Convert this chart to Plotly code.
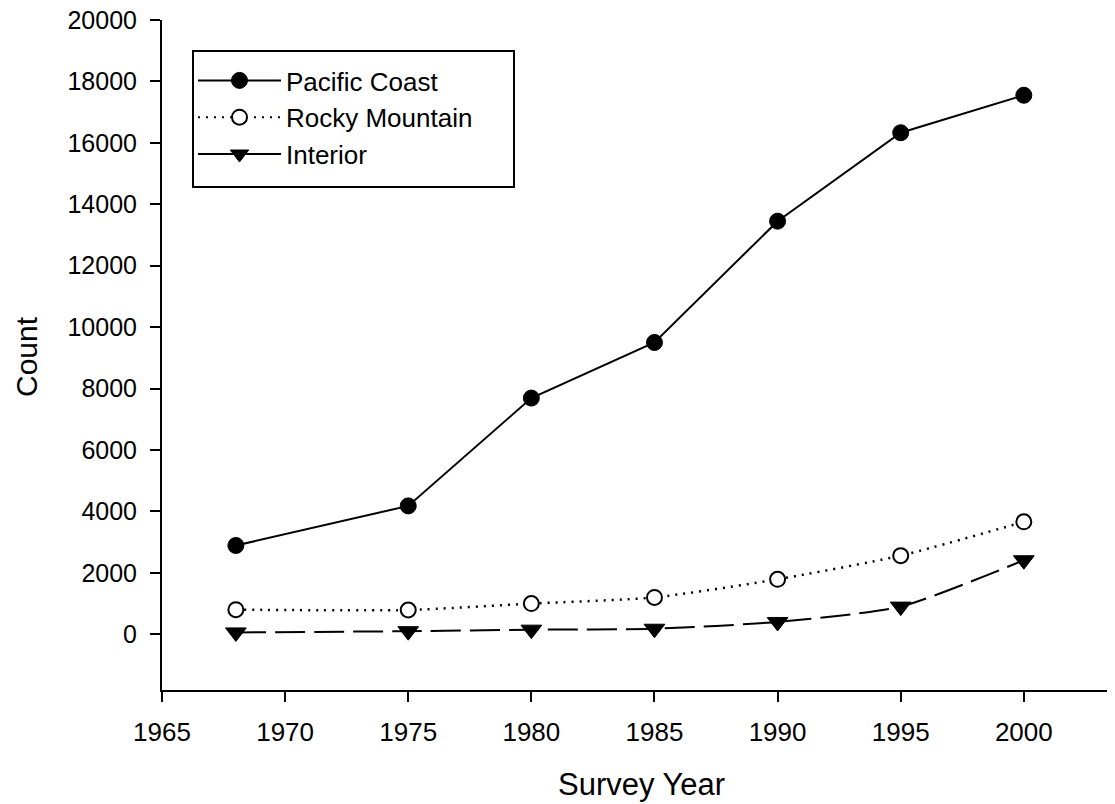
import plotly.graph_objects as go

years = [1968, 1975, 1980, 1985, 1990, 1995, 2000]
pacific = [2890, 4180, 7690, 9500, 13450, 16330, 17550]
rocky = [800, 790, 1000, 1200, 1790, 2560, 3660]
interior = [60, 100, 150, 180, 400, 900, 2410]

series_names = ["Pacific Coast", "Rocky Mountain", "Interior"]

x_ticks = [1965, 1970, 1975, 1980, 1985, 1990, 1995, 2000]
y_ticks = [0, 2000, 4000, 6000, 8000, 10000, 12000, 14000, 16000, 18000, 20000]

m_pac = dict(symbol="circle", size=16, color="black", line=dict(color="black", width=1))
m_roc = dict(symbol="circle", size=15, color="white", line=dict(color="black", width=2))
m_int = dict(symbol="triangle-down", size=18, color="black", line=dict(color="black", width=1))

fig = go.Figure()
fig.add_trace(go.Scatter(
    x=years, y=pacific, name=series_names[0], mode="lines+markers", showlegend=False,
    line=dict(color="black", width=2), marker=m_pac,
))
fig.add_trace(go.Scatter(
    x=years, y=rocky, name=series_names[1], mode="lines+markers", showlegend=False,
    line=dict(color="black", width=2.5, dash="2px,6px", shape="spline", smoothing=0.6),
    marker=m_roc,
))
fig.add_trace(go.Scatter(
    x=years, y=interior, name=series_names[2], mode="lines+markers", showlegend=False,
    line=dict(color="black", width=2, dash="30px,9px", shape="spline", smoothing=0.6),
    marker=m_int,
))

# legend entries (keys drawn as in the original: Interior key shown solid)
legend_dash = ["solid", "2px,6px", "solid"]
legend_markers = [m_pac, m_roc, m_int]
for nm, dsh, mk in zip(series_names, legend_dash, legend_markers):
    fig.add_trace(go.Scatter(
        x=[None], y=[None], name=nm, mode="lines+markers",
        line=dict(color="black", width=2, dash=dsh), marker=mk, hoverinfo="skip",
    ))

# plot area in page pixels: left 162, right 1110, top 20, bottom 690
PL, PR, PT, PB = 162, 1110, 20, 690

def px_x(p):
    return (p - PL) / float(PR - PL)

def px_y(p):
    return (PB - p) / float(PB - PT)

font_family = "Liberation Sans, Arial, sans-serif"
fig.update_layout(
    width=1107, height=796,
    margin=dict(l=PL - 8, r=1107 - (PR - 8), t=PT - 8, b=796 - (PB - 8), autoexpand=False),
    paper_bgcolor="white", plot_bgcolor="white",
    font=dict(family=font_family, color="black", size=25),
    showlegend=True,
    legend=dict(
        x=px_x(193), y=px_y(57), xanchor="left", yanchor="top",
        borderwidth=0, bgcolor="rgba(0,0,0,0)",
        font=dict(size=26, family=font_family),
        tracegroupgap=0, itemwidth=83,
    ),
    shapes=[dict(
        type="rect", xref="paper", yref="paper",
        x0=px_x(193), x1=px_x(514), y0=px_y(187), y1=px_y(51),
        line=dict(color="black", width=2), fillcolor="rgba(0,0,0,0)", layer="above",
    )],
    annotations=[
        dict(text="Survey Year", xref="paper", yref="paper", x=px_x(641), y=px_y(784),
             xanchor="center", yanchor="middle", showarrow=False, font=dict(size=31)),
        dict(text="Count", xref="paper", yref="paper", x=px_x(27), y=px_y(357),
             xanchor="center", yanchor="middle", showarrow=False, textangle=-90,
             font=dict(size=30), borderpad=0),
    ],
    xaxis=dict(
        range=[1965, 2003.5], tickmode="array", tickvals=x_ticks, tickformat="d",
        showgrid=False, zeroline=False, showline=True, linecolor="black", linewidth=2,
        ticks="outside", ticklen=10, tickwidth=2, tickcolor="black",
        tickfont=dict(size=26), ticklabelstandoff=8, ticklabeloverflow="allow",
        automargin=False,
    ),
    yaxis=dict(
        range=[-1815, 20000], tickmode="array", tickvals=y_ticks, tickformat="d",
        showgrid=False, zeroline=False, showline=True, linecolor="black", linewidth=2,
        ticks="outside", ticklen=10, tickwidth=2, tickcolor="black",
        tickfont=dict(size=25), ticklabelstandoff=8, ticklabeloverflow="allow",
        automargin=False,
    ),
)

fig.write_html("out.html")
